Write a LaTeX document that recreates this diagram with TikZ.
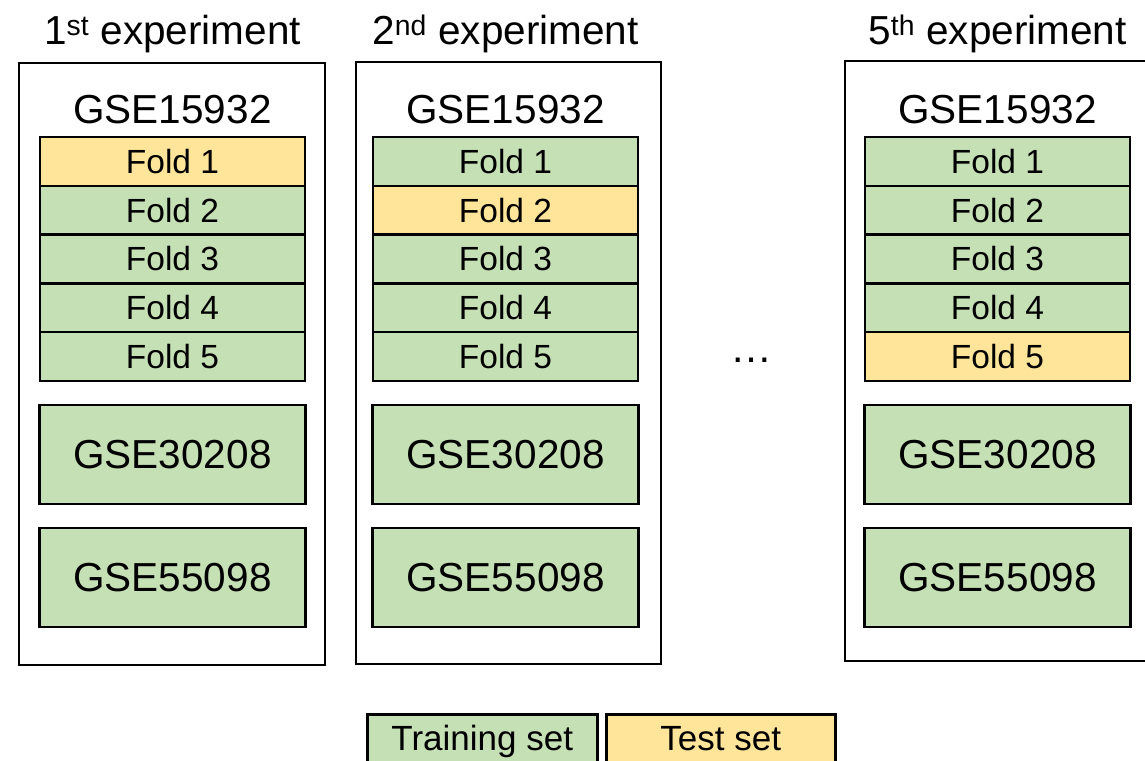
\documentclass[tikz,border=0pt]{standalone}
\usepackage{fontspec}
\setmainfont{Liberation Sans}
\definecolor{train}{HTML}{C5E0B4}
\definecolor{test}{HTML}{FFE599}
\tikzset{
  bigfont/.style={font=\fontsize{40.5}{44}\selectfont},
  smallfont/.style={font=\fontsize{33.5}{36}\selectfont},
  legfont/.style={font=\fontsize{35}{38}\selectfont},
  outerbox/.style={draw, line width=2pt, inner sep=0pt, anchor=north west},
  foldbox/.style={draw, line width=2.3pt, smallfont, inner sep=0pt,
    minimum width=265pt, minimum height=48.8pt},
  gsebox/.style={draw, line width=2.3pt, bigfont, inner sep=0pt, fill=train,
    minimum width=266pt, minimum height=99pt},
  legbox/.style={draw, line width=2.5pt, legfont, inner sep=0pt, anchor=north west,
    minimum height=62pt, text height=25pt, text depth=15pt},
}
\begin{document}
\begin{tikzpicture}[x=1pt, y=-1pt]
\useasboundingbox (0,0) rectangle (1145,760);
% one column per experiment: number / centre x / outer box edges / ordinal suffix
\foreach \e/\cx/\l/\r/\t/\b/\sx in {1/172.5/18/324/62/664/st, 2/505.5/355/660/61/663/nd, 5/997.5/844/1150/60/660/th}{
  \node[outerbox, minimum width={(\r-\l)*1pt}, minimum height={(\b-\t)*1pt}] (e\e) at (\l,\t) {};
  \node[bigfont, anchor=base, inner sep=0pt] (t\e) at (\cx,45) {\e\textsuperscript{\sx} experiment};
  \node[bigfont, anchor=base, inner sep=0pt] (g\e) at (\cx,123) {GSE15932};
  \foreach \k in {1,...,5}{
    \pgfmathsetmacro\yy{137+48.8*(\k-0.5)}
    \ifnum\k=\e \def\fc{test}\else\def\fc{train}\fi
    \node[foldbox, fill=\fc] (e\e-f\k) at (\cx,\yy) {Fold \k};
  }
  \node[gsebox] (e\e-a) at (\cx,454.5) {GSE30208};
  \node[gsebox] (e\e-b) at (\cx,577.5) {GSE55098};
}
\node[font=\fontsize{42}{44}\selectfont, anchor=base, inner sep=0pt] (dots) at (751,362) {…};
% legend
\node[legbox, fill=train, minimum width=230pt] (train) at (366,713) {Training set};
\node[legbox, fill=test, minimum width=229pt] (test) at (605,713) {Test set};
\end{tikzpicture}
\end{document}
